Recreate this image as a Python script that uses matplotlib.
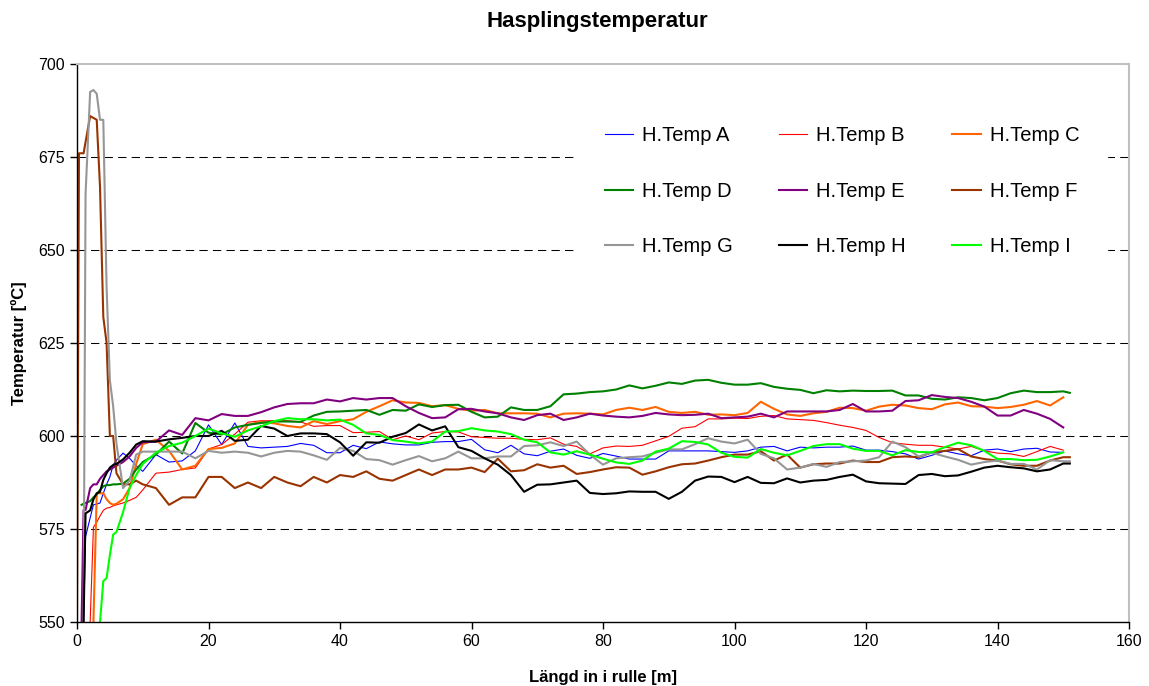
import numpy as np
import matplotlib
matplotlib.use("Agg")
import matplotlib.pyplot as plt

plt.rcParams['font.family'] = ['Liberation Sans', 'DejaVu Sans']

nan = np.nan

# position along the coil [m]: dense at the start, then every 2 m
x_head = [0, 0.3, 0.7, 1, 1.3, 2, 2.5, 3, 3.5, 4, 4.5, 5, 5.5, 6, 7, 8, 9]
x_m = x_head + list(range(10, 151, 2)) + [151]

temp_a = [nan, nan, nan, 550, 572.9, 578, 581.5, 581.7, 582, 584.6, 587, 589, 592.2, 593.5, 595.4, 594, 592,
          590.5, 595, 593, 593.3, 596, 603, 597.7, 603.5, 597.2, 596.8,
          597, 597.2, 598, 597.5, 595.5, 595.5, 597.5, 596.6, 598.4, 597.9,
          597.6, 597.6, 598.3, 598.5, 598.5, 599.1, 596.3, 595.5, 597.5, 595.2,
          594.7, 595.9, 596.5, 594.8, 594, 595.3, 594.6, 593.8, 593.8, 593.8,
          596, 596, 596, 596, 595.8, 595.6, 596, 597, 597.2, 596,
          597, 596.8, 597, 597, 597.3, 596.2, 596.2, 595.8, 595.2, 593.8,
          594.8, 596, 595.2, 594.7, 596.2, 596.5, 595.8, 596.5, 596.7, 595.7,
          595.6, nan]

temp_b = [nan, nan, nan, nan, nan, 550, 575.5, 576.8, 578.5, 580, 580.6, 580.8, 581.2, 581.5, 582, 582.7, 583.5,
          585.5, 590, 590.3, 591, 591.4, 596.5, 597.7, 600.5, 603.7, 604.1,
          604.1, 604.1, 603.8, 602.6, 602.8, 602.8, 600.9, 601, 601.2, 599,
          600, 599, 600.8, 601.2, 601.1, 599.8, 599.6, 599.4, 599.4, 599.1,
          599, 599.5, 597.8, 597.2, 595.2, 596.8, 597.3, 597.2, 597.5, 598.7,
          599.9, 602.1, 602.5, 604.6, 604.6, 604.8, 604.7, 605.3, 605.5, 604.6,
          604.4, 604.2, 603.6, 602.9, 602.3, 601.5, 599.6, 598.2, 597.8, 597.5,
          597.5, 597, 596.5, 597.2, 596, 595.4, 595.2, 594.5, 595.8, 597.2,
          596.2, nan]

temp_c = [nan, nan, nan, nan, nan, nan, 550, 584.6, 584.6, 584.6, 583, 582, 581.5, 581.8, 583, 586, 592.5,
          597.8, 599, 596, 591, 592, 596.5, 596.8, 598, 603, 603.8,
          603.4, 602.7, 602.3, 604, 603.2, 604, 604.5, 606.5, 608, 609.6,
          609, 608.9, 608, 608.3, 607.3, 606.8, 607, 606.1, 606.1, 606.1,
          606, 605, 606, 606.1, 606, 605.8, 607, 607.6, 607, 607.8,
          606.5, 606.2, 606.5, 605.7, 605.8, 605.6, 606.2, 609.2, 607.3, 605.8,
          605.4, 606.1, 606.5, 607.6, 607.5, 606.8, 607.9, 608.4, 608.2, 607.5,
          607.2, 608.5, 609, 608, 607.9, 607.5, 607.8, 608.4, 609.4, 608.2,
          610.4, nan]

temp_d = [nan, nan, 581.5, 581.8, 582, 582.5, 583.5, 584.3, 585.5, 586.5, 586.8, 586.8, 587, 587, 587.2, 588.5, 591,
          593, 595, 598.5, 595.3, 603.5, 600.9, 600.4, 602.3, 603, 603.5,
          603.9, 603.9, 603.8, 605.5, 606.5, 606.6, 606.8, 607, 605.7, 607,
          606.8, 608.5, 607.8, 608.3, 608.4, 606.5, 605, 605.2, 607.7, 607,
          607, 608, 611.2, 611.4, 611.8, 612, 612.5, 613.6, 612.8, 613.5,
          614.4, 614, 614.9, 615.1, 614.3, 613.8, 613.8, 614.2, 613.2, 612.7,
          612.4, 611.5, 612.3, 612, 612.2, 612.1, 612.1, 612.2, 610.9, 610.9,
          610, 609.8, 610.4, 610.2, 609.6, 610.2, 611.5, 612.2, 611.8, 611.8,
          612, 611.6]

temp_e = [nan, nan, 550, 580.1, 580.1, 586, 587, 587, 588.5, 589.5, 590.5, 591, 591.5, 592, 593, 594.5, 596.8,
          598.3, 598.5, 601.5, 600.3, 604.8, 604.2, 605.9, 605.4, 605.4, 606.4,
          607.7, 608.6, 608.8, 608.8, 609.8, 609.3, 610.2, 609.8, 610.2, 610.2,
          608, 606.2, 604.8, 605, 607.2, 607.3, 606.6, 606.1, 605, 604.3,
          605.6, 606, 604.3, 605, 606, 605.5, 605.2, 605, 605.4, 606.2,
          605.8, 605.6, 605.7, 606, 604.8, 605, 605.2, 606, 605, 606.6,
          606.6, 606.6, 606.6, 607, 608.6, 606.6, 606.6, 606.8, 609.4, 609.6,
          611, 610.5, 610.2, 609.2, 607.9, 605.5, 605.5, 607, 606, 604.6,
          602.3, nan]

temp_f = [550, 676, 676, 676, 679, 686, 685.5, 685, 667, 632, 625, 600, 600, 590, 587, 587, 588,
          587, 586, 581.5, 583.5, 583.5, 589, 589, 586, 587.5, 586,
          589, 587.5, 586.5, 589, 587.5, 589.5, 589, 590.5, 588.5, 588,
          589.5, 591, 589.5, 591, 591, 591.5, 590.3, 593.9, 590.5, 590.8,
          592.4, 591.5, 592, 589.8, 590.3, 591, 591.6, 591.5, 589.6, 590.5,
          591.6, 592.4, 592.6, 593.4, 594.3, 595, 595, 595.9, 593.4, 595,
          591.5, 592.4, 592.6, 592.6, 593.4, 593, 593, 594.3, 594.5, 594.3,
          595.6, 596, 596.5, 594.5, 593.8, 593.4, 592.4, 592, 592, 593.4,
          594.3, 594.3]

temp_g = [nan, nan, nan, 550, 665, 692.5, 693, 692, 685, 685, 640, 615, 608, 598, 586, 588, 595,
          595.8, 595.8, 595.8, 595.8, 594, 596, 595.5, 595.8, 595.5, 594.5,
          595.5, 596, 595.8, 594.8, 593.6, 596.8, 596, 593.8, 593.5, 592.3,
          593.5, 594.6, 593.2, 594, 595.8, 594, 594, 594.5, 594.5, 597.3,
          597.5, 598.3, 597.3, 598.5, 595, 592.3, 594, 594.3, 594.5, 595.5,
          596.4, 596.4, 597.8, 599.4, 598.5, 598, 599, 595.2, 594, 591,
          591.5, 592.5, 591.7, 593, 593.2, 593.4, 594.3, 598.5, 597, 594.5,
          595.5, 594.5, 593.6, 592.3, 593, 593.4, 592.5, 592.5, 591, 593.5,
          593.2, 593.2]

temp_h = [nan, nan, nan, 550, 579.2, 580, 583, 584.6, 585, 588.2, 590, 591.5, 592.2, 592.5, 593.7, 595.5, 597.7,
          598.6, 598.5, 599.1, 599.5, 600, 600, 601.4, 598.7, 599, 602.7,
          602, 600, 600.7, 600.7, 600.5, 598.3, 594.7, 598.3, 598.2, 599.8,
          600.8, 603.1, 601.5, 602.6, 597, 596, 594, 592.3, 589.5, 585,
          586.9, 587, 587.5, 588, 584.7, 584.4, 584.6, 585.1, 585, 585,
          583.1, 585, 588, 589.1, 589, 587.6, 589, 587.4, 587.3, 588.6,
          587.5, 588, 588.2, 589, 589.6, 587.8, 587.3, 587.2, 587.1, 589.5,
          589.8, 589.2, 589.4, 590.4, 591.5, 592, 591.6, 591.3, 590.5, 591,
          592.6, 592.6]

temp_i = [nan, nan, nan, nan, nan, nan, nan, nan, 550, 561, 561.8, 568, 573.5, 574.2, 579.5, 586, 589.5,
          592.5, 595.5, 597.3, 598.2, 600, 602, 600.7, 599.8, 601.5, 602.6,
          604, 604.8, 604.5, 604.5, 604.2, 604.4, 603, 600.7, 600.3, 598.9,
          598.5, 598, 598.5, 601.2, 601.3, 602.1, 601.5, 601.2, 600.5, 599,
          598.3, 595.6, 595, 595.9, 595, 593.9, 592.9, 592.5, 593.4, 595.8,
          596.6, 598.6, 598.4, 597.7, 595.5, 594.4, 594.2, 596.5, 595.5, 594.8,
          596, 597.3, 597.8, 597.8, 596.6, 596, 596, 594.8, 596.2, 595.7,
          595.6, 597, 598.2, 597.5, 596, 593.8, 593.8, 593.5, 593.6, 594.5,
          595.6, nan]

labels = ["H.Temp A", "H.Temp B", "H.Temp C", "H.Temp D", "H.Temp E",
          "H.Temp F", "H.Temp G", "H.Temp H", "H.Temp I"]
values = [temp_a, temp_b, temp_c, temp_d, temp_e, temp_f, temp_g, temp_h, temp_i]
colors = ["#0000FF", "#FF0000", "#FF6600", "#008000", "#800080",
          "#993300", "#969696", "#000000", "#00FF00"]
widths = [0.8, 0.8, 1.5, 1.5, 1.5, 1.5, 1.5, 1.5, 1.5]

fig = plt.figure(figsize=(11.49, 6.86), dpi=100)
ax = fig.add_axes([77 / 1149, 64 / 686, 1052 / 1149, 558 / 686])

handles = []
for lab, vals, col, lw in zip(labels, values, colors, widths):
    ln, = ax.plot(x_m, vals, color=col, linewidth=lw, label=lab, zorder=2)
    handles.append(ln)

# dashed horizontal grid
for yv in [575, 600, 625, 650, 675]:
    ax.axhline(yv, color="black", linewidth=0.75, dashes=(8, 5), zorder=1)

ax.set_xlim(0, 160)
ax.set_ylim(550, 700)
ax.set_xticks(range(0, 161, 20))
ax.set_yticks(range(550, 701, 25))
ax.tick_params(labelsize=11.5, length=5, width=1, direction="out")

for s in ["top", "right"]:
    ax.spines[s].set_color("#c0c0c0")
    ax.spines[s].set_linewidth(1.5)
for s in ["left", "bottom"]:
    ax.spines[s].set_color("black")
    ax.spines[s].set_linewidth(1)

ax.set_xlabel("Längd in i rulle [m]", fontsize=12, fontweight="bold", labelpad=15)
ax.set_ylabel("Temperatur [ºC]", fontsize=12, fontweight="bold", labelpad=8)
fig.text(597 / 1149, 1 - 22 / 686, "Hasplingstemperatur", fontsize=16,
         fontweight="bold", ha="center", va="center")

# legend filled row by row (A B C / D E F / G H I)
order = [0, 3, 6, 1, 4, 7, 2, 5, 8]
leg = ax.legend([handles[i] for i in order], [labels[i] for i in order],
                ncol=3, loc="upper left", bbox_to_anchor=(0.475, 0.9396),
                borderaxespad=0, borderpad=1.4, fontsize=14.5,
                labelspacing=1.82, handlelength=1.4, handletextpad=0.45,
                columnspacing=2.3, frameon=True, fancybox=False,
                facecolor="white", edgecolor="white", framealpha=1)
leg.set_zorder(5)

fig.savefig("out.png", dpi=100)
